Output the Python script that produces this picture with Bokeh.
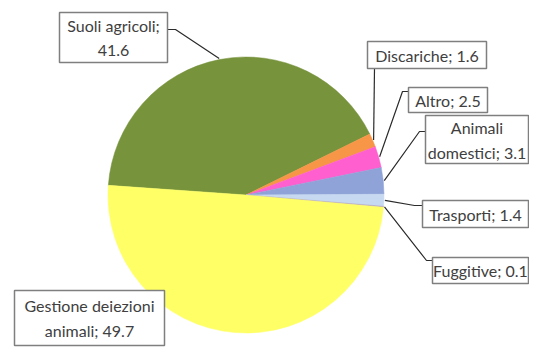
import math
from bokeh.plotting import figure
from bokeh.models import Range1d, ColumnDataSource
from bokeh.core.properties import value
from bokeh.embed import file_html
from bokeh.resources import INLINE

# ---- data ----
categories = ["Suoli agricoli", "Discariche", "Altro", "Animali domestici",
              "Trasporti", "Fuggitive", "Gestione deiezioni animali"]
values = [41.6, 1.6, 2.5, 3.1, 1.4, 0.1, 49.7]
colors = ["#77933C", "#F79646", "#FF5FCF", "#8FA3D8", "#C6D9F1", "#B3A2C7", "#FFFF66"]
line_breaks = ["Suoli agricoli; ", None, None, "Animali ", None, None, "Gestione deiezioni "]

# ---- layout (reference pixel coordinates, y downwards) ----
CX, CY, R = 245.5, 194.5, 138.0
START_DEG = 176.0
# label boxes: left, top, right, bottom ; text centre
boxes = [(59, 12, 167, 62), (367, 41, 486, 68), (408, 87, 487, 112),
         (425, 115, 528, 163), (422, 200, 528, 227), (432, 257, 528, 283),
         (14, 290, 164, 345)]
text_pos = [(113, 37), (426.5, 54.5), (447.5, 99.5), (476.5, 139.5),
            (475, 213.5), (480, 270), (89, 317.5)]
# leader elbow points (from label side), pie end computed from slice angle
elbows = [[(167, 29), (175, 29)], [(374, 68)], [(408, 91), (402, 91)],
          [(425, 131), (419, 131)], [(422, 205), (414, 205)],
          [(432, 260), (426, 260)], None]


def Y(v):
    return -v


total = sum(values)
starts, ends, mids = [], [], []
cum = START_DEG
for v in values:
    sweep = v / total * 360.0
    hi = cum
    lo = cum - sweep
    starts.append(math.radians(lo))
    ends.append(math.radians(hi))
    mids.append(math.radians(cum - sweep / 2))
    cum = lo

W, H = 529, 347
p = figure(width=W, height=H, output_backend="svg", toolbar_location=None,
           x_range=Range1d(0, W), y_range=Range1d(Y(H), Y(0)),
           min_border=0)
p.xaxis.visible = False
p.yaxis.visible = False
p.xgrid.visible = False
p.ygrid.visible = False
p.outline_line_color = None
p.background_fill_color = "white"
p.border_fill_color = "white"

src = ColumnDataSource(dict(start=starts, end=ends, color=colors, cat=categories))
p.wedge(x=CX, y=Y(CY), radius=R, start_angle="start", end_angle="end",
        fill_color="color", line_color="color", line_width=0.5, source=src)

# leaders
xs, ys = [], []
for i, el in enumerate(elbows):
    if el is None:
        continue
    ex = CX + (R + 1) * math.cos(mids[i])
    ey = CY - (R + 1) * math.sin(mids[i])
    pts = list(el) + [(ex, ey)]
    xs.append([pt[0] for pt in pts])
    ys.append([Y(pt[1]) for pt in pts])
p.multi_line(xs, ys, line_color="#2b2b2b", line_width=1.2)

# boxes
p.quad(left=[b[0] for b in boxes], right=[b[2] for b in boxes],
       top=[Y(b[1]) for b in boxes], bottom=[Y(b[3]) for b in boxes],
       fill_color="white", line_color="#7F7F7F", line_width=1.5)

labels = []
for cat, v, brk in zip(categories, values, line_breaks):
    s = f"{cat}; {v:.1f}"
    if brk:
        s = s.replace(brk, brk[:-1] + "\n", 1)
    labels.append(s)

p.text(x=[t[0] for t in text_pos], y=[Y(t[1]) for t in text_pos], text=labels,
       text_align="center", text_baseline="middle", text_font=value("Lato"),
       text_font_size="16px", text_color="#404040", text_line_height=1.3)

open("out.html", "w").write(file_html(p, INLINE))
